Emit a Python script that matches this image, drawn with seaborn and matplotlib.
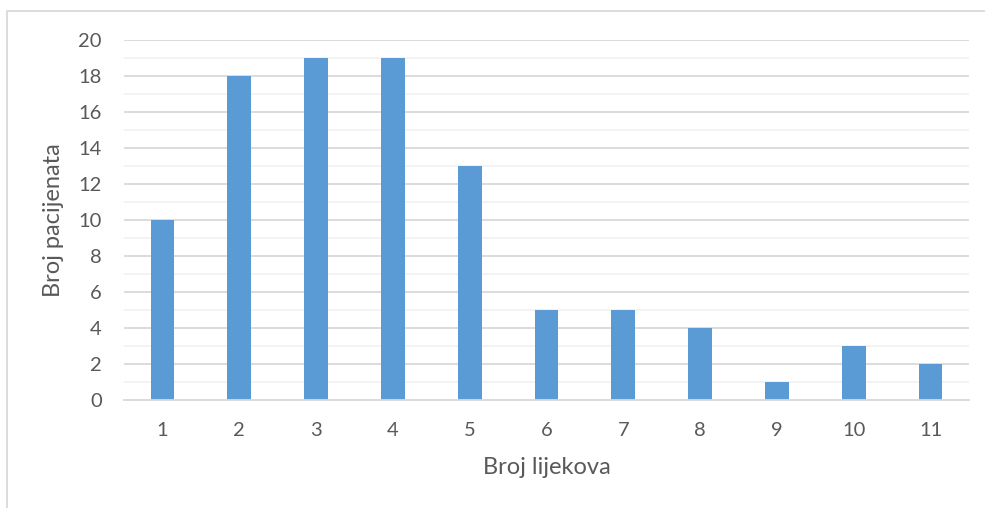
import numpy as np
import matplotlib
matplotlib.use("Agg")
import matplotlib.pyplot as plt
import seaborn as sns
import pandas as pd

# broj lijekova -> broj pacijenata
lijekovi = ["1", "2", "3", "4", "5", "6", "7", "8", "9", "10", "11"]
pacijenti = [10, 18, 19, 19, 13, 5, 5, 4, 1, 3, 2]

sns.set_style("white")
plt.rcParams['font.family'] = ['Lato', 'DejaVu Sans']
text_col = "#595959"

df = pd.DataFrame({'Broj lijekova': lijekovi, 'Broj pacijenata': pacijenti})

fig = plt.figure(figsize=(9.85, 5.08), dpi=100)
ax = fig.add_axes([124 / 985, 1 - 400 / 508, 845 / 985, 360 / 508])

# minor + major grid
for y in np.arange(1, 20, 2):
    ax.axhline(y, color="#f2f2f2", lw=1.3, zorder=0)
for y in np.arange(2, 21, 2):
    ax.axhline(y, color="#d9d9d9", lw=1.3, zorder=0)

sns.barplot(data=df, x='Broj lijekova', y='Broj pacijenata', color="#5B9BD5",
            saturation=1, width=0.31, ax=ax, zorder=2, linewidth=0)

ax.set_ylim(0, 20)
ax.set_xlim(-0.5, len(lijekovi) - 0.5)
ax.set_yticks(np.arange(0, 21, 2))
for s in ['top', 'right', 'left']:
    ax.spines[s].set_visible(False)
ax.spines['bottom'].set_color("#d9d9d9")
ax.spines['bottom'].set_linewidth(1.3)
ax.tick_params(axis='both', length=0, labelsize=14.5, colors=text_col)
ax.tick_params(axis='y', pad=16)
ax.tick_params(axis='x', pad=16)
ax.set_xlabel('Broj lijekova', fontsize=17, color=text_col, labelpad=13)
ax.set_ylabel('Broj pacijenata', fontsize=17, color=text_col, labelpad=10)

# chart border
fig.patches.append(plt.Rectangle((7 / 985, -0.1), 1.1, 1 - 11 / 508 + 0.1,
                                 transform=fig.transFigure, fill=False,
                                 edgecolor="#d9d9d9", lw=1.3))

fig.savefig("out.png", dpi=100)
